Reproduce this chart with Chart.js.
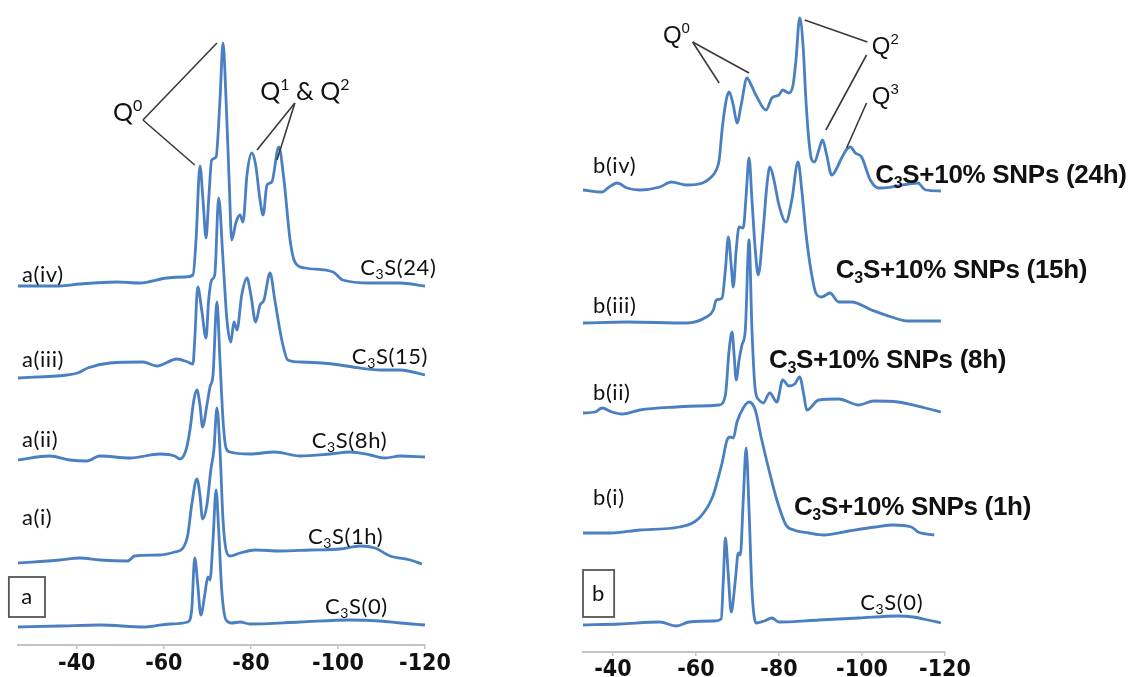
<!DOCTYPE html>
<html>
<head>
<meta charset="utf-8">
<script src="https://cdn.jsdelivr.net/npm/chart.js@4.4.1/dist/chart.umd.min.js"></script>
<style>
  html, body { margin: 0; padding: 0; background: #fff; }
  #wrap { position: relative; width: 1137px; height: 677px; overflow: hidden; }
  #chartA { position: absolute; left: 0; top: 0; }
  #chartB { position: absolute; left: 560px; top: 0; }
</style>
</head>
<body>
<div id="wrap">
  <canvas id="chartA" width="460" height="677"></canvas>
  <canvas id="chartB" width="577" height="677"></canvas>
</div>
<script>
// chemical shift ticks (ppm)
const tickPpm = [-40, -60, -80, -100, -120];

// panel a : C3S hydration, stacked spectra (intensity already offset)
const shiftA0 = [-26.4, -36.1, -45.3, -55.6, -61.4, -65.5, -66.4, -67.1, -67.8, -68.5, -69.4, -70.1, -70.6, -71.3, -72.0, -72.6, -73.3, -74.3, -75.6, -77.5, -79.8, -91.3, -102.8, -109.7, -114.3, -120];
const intA0 = [18, 19, 20, 18, 21, 23, 35, 87, 60, 30, 50, 68, 65, 105, 155, 115, 55, 25, 22, 23, 21, 23, 25, 24, 22, 20];

const shiftA1 = [-26.4, -36.1, -40.7, -45.3, -51.7, -53.3, -59.1, -62.5, -64.4, -65.5, -66.4, -67.6, -68.3, -68.9, -69.9, -70.8, -71.5, -72.2, -72.9, -73.6, -74.3, -75.2, -77.5, -80.9, -86.7, -93.6, -100.5, -105.1, -108.5, -112, -116.6, -119.3];
const intA1 = [82, 85, 87, 85, 84, 89, 90, 93, 97, 110, 140, 166, 150, 126, 140, 175, 195, 237, 195, 125, 95, 89, 92, 95, 94, 95, 96, 99, 97, 89, 85, 81];

const shiftA2 = [-26.4, -33.8, -38.4, -42.3, -45.3, -52.2, -59.1, -62.5, -63.7, -65.1, -66.0, -66.9, -67.6, -68.3, -68.9, -69.9, -70.6, -71.3, -72.2, -72.9, -73.6, -74.3, -75.2, -79.8, -85.5, -91.3, -98.2, -102.8, -107.4, -110.8, -114.3, -120];
const intA2 = [185, 189, 185, 184, 189, 187, 191, 189, 186, 195, 215, 245, 255, 240, 218, 240, 258, 270, 343, 285, 225, 197, 193, 191, 193, 189, 191, 193, 190, 187, 189, 188];

const shiftA3 = [-26.4, -37.7, -40.2, -42.5, -47.6, -55.2, -58.4, -63.0, -65.5, -66.7, -67.1, -67.8, -68.7, -69.7, -70.3, -71.0, -71.7, -72.6, -73.6, -74.5, -75.4, -76.1, -76.8, -77.9, -79.1, -80.0, -81.1, -82.1, -83.0, -84.4, -85.5, -87.1, -88.5, -91.3, -96.3, -100.5, -103.4, -109.7, -114.3, -120];
const intA3 = [267, 270, 272, 277, 282, 283, 279, 286, 283, 281, 305, 358, 335, 307, 345, 365, 370, 447, 385, 325, 303, 323, 315, 350, 367, 350, 323, 340, 345, 372, 345, 305, 285, 283, 282, 280, 278, 275, 275, 270];

const shiftA4 = [-26.4, -36.1, -40.7, -49.2, -54.5, -60.7, -64.8, -66.7, -67.4, -68.3, -69.0, -69.7, -70.3, -71.0, -72.0, -72.9, -73.6, -74.3, -75.0, -75.6, -76.6, -77.5, -78.2, -79.1, -80.2, -81.1, -82.1, -82.8, -83.7, -84.8, -86.4, -87.6, -89.0, -90.1, -92.4, -98.9, -101.1, -107.4, -114.3, -120];
const intA4 = [359, 359, 361, 363, 362, 367, 368, 370, 405, 479, 445, 407, 445, 485, 488, 545, 602, 545, 465, 405, 423, 430, 423, 470, 492, 480, 445, 430, 460, 463, 498, 465, 405, 383, 377, 373, 365, 362, 362, 359];

// panel b : C3S + 10% SNPs
const shiftB0 = [-32.8, -41.7, -51.3, -55.3, -58.4, -64.4, -66.1, -66.6, -67.1, -67.8, -68.5, -69.5, -70.2, -70.7, -71.4, -72.1, -72.8, -73.5, -74.5, -76.4, -78.3, -80.0, -89.6, -99.2, -108.7, -112.3, -115.9, -119];
const intB0 = [27, 28, 30, 26, 30, 31, 33, 72, 114, 77, 40, 72, 99, 97, 152, 204, 142, 62, 29, 31, 34, 30, 32, 34, 36, 35, 32, 29];

const shiftB1 = [-32.8, -39.3, -46.5, -56.0, -60.8, -64.0, -65.1, -66.3, -67.5, -68.3, -69.0, -69.9, -71.4, -72.8, -74.3, -75.7, -77.6, -79.5, -81.7, -83.6, -87.2, -90.8, -96.8, -103.2, -107.5, -111.9, -113.5, -117.4];
const intB1 = [119, 119, 122, 125, 134, 155, 170, 189, 212, 215, 214, 230, 244, 250, 242, 215, 182, 152, 127, 122, 119, 117, 121, 125, 127, 125, 120, 117];

const shiftB2 = [-32.8, -35.7, -37.4, -39.8, -42.2, -46.5, -55.3, -60.8, -65.6, -67.1, -68.0, -68.7, -69.2, -69.7, -70.4, -71.1, -71.9, -72.8, -73.5, -74.3, -75.2, -76.2, -77.8, -79.5, -80.9, -82.4, -83.8, -85.0, -86.0, -86.7, -89.6, -94.4, -99.2, -102.8, -108.7, -115.2, -119];
const intB2 = [239, 240, 244, 240, 238, 242, 245, 246, 247, 257, 302, 320, 297, 272, 292, 307, 322, 412, 322, 262, 252, 249, 259, 250, 272, 266, 268, 275, 257, 242, 252, 253, 247, 251, 250, 244, 240];

const shiftB3 = [-32.8, -43.4, -57.7, -62.5, -64.2, -64.9, -66.3, -67.1, -67.8, -68.5, -69.0, -69.7, -70.4, -71.4, -72.1, -72.8, -73.5, -74.3, -75.0, -76.2, -77.1, -77.8, -78.8, -80.0, -81.7, -83.1, -84.6, -85.5, -86.5, -87.7, -88.9, -90.3, -92.3, -94.4, -97.5, -102.3, -107.1, -111.1, -119];
const intB3 = [329, 330, 329, 335, 342, 352, 354, 382, 415, 387, 365, 402, 425, 424, 457, 494, 452, 402, 377, 422, 467, 485, 472, 447, 430, 452, 490, 462, 419, 382, 359, 355, 359, 350, 350, 342, 335, 331, 331];

const shiftB4 = [-32.8, -37.4, -38.8, -41.0, -43.4, -46.5, -51.3, -54.1, -57.7, -61.6, -63.7, -64.9, -65.6, -66.3, -67.3, -68.0, -69.0, -69.9, -70.9, -72.3, -73.3, -74.7, -76.9, -78.3, -80.0, -80.9, -82.4, -83.4, -84.1, -85.0, -85.8, -86.5, -87.2, -87.9, -88.6, -89.6, -90.5, -91.5, -92.7, -95.1, -96.2, -97.2, -98.4, -99.9, -102.0, -104.0, -107.1, -113.5, -114.7, -115.4, -119];
const intB4 = [462, 460, 464, 469, 464, 462, 465, 470, 467, 469, 475, 482, 492, 522, 552, 560, 547, 529, 547, 574, 567, 555, 542, 554, 557, 562, 559, 567, 592, 634, 607, 552, 512, 492, 490, 502, 512, 497, 477, 494, 502, 505, 499, 495, 472, 464, 465, 469, 464, 462, 461];

const lineBlue = '#4a7fc1';
const calibri = "Lato, 'Open Sans', sans-serif";
const arial = "'Liberation Sans', Arial, sans-serif";
const tickFont = "'Liberation Sans Narrow', 'DejaVu Sans Condensed', sans-serif";

function toPoints(xs, ys) {
    return xs.map((x, i) => ({ x: x, y: ys[i] }));
}

function trace(xs, ys) {
    return {
        data: toPoints(xs, ys),
        borderColor: lineBlue,
        borderWidth: 2.8,
        pointRadius: 0,
        fill: false,
        cubicInterpolationMode: 'monotone'
    };
}

// text with sub/superscripts, drawn in canvas
function drawRich(ctx, parts, x, y, f, align) {
    const big = f.weight + ' ' + f.size + 'px ' + f.family;
    const small = f.weight + ' ' + Math.round(f.size * 0.62) + 'px ' + f.family;
    ctx.letterSpacing = (f.spacing || 0) + 'px';
    let w = 0;
    parts.forEach(p => {
        ctx.font = p[1] ? small : big;
        w += ctx.measureText(p[0]).width;
    });
    let cx = align === 'center' ? x - w / 2 : (align === 'right' ? x - w : x);
    ctx.textAlign = 'left';
    ctx.textBaseline = 'middle';
    ctx.fillStyle = '#111';
    parts.forEach(p => {
        ctx.font = p[1] ? small : big;
        let dy = 0;
        if (p[1] === 'sub') dy = f.size * 0.3;
        if (p[1] === 'sup') dy = -f.size * 0.3;
        ctx.fillText(p[0], cx, y + dy);
        cx += ctx.measureText(p[0]).width;
    });
    ctx.letterSpacing = '0px';
}

function notesPlugin(notes) {
    return {
        id: 'notes',
        afterDraw(chart) {
            const ctx = chart.ctx;
            const sx = chart.scales.x, sy = chart.scales.y;
            const px = v => sx.getPixelForValue(v);
            const py = v => sy.getPixelForValue(v);
            ctx.save();
            ctx.strokeStyle = '#3a3a3a';
            ctx.lineWidth = 1.6;
            notes.lines.forEach(l => {
                ctx.beginPath();
                ctx.moveTo(px(l[0]), py(l[1]));
                ctx.lineTo(px(l[2]), py(l[3]));
                ctx.stroke();
            });
            notes.boxes.forEach(b => {
                const x1 = px(b.x1), x2 = px(b.x2), y1 = py(b.y1), y2 = py(b.y2);
                ctx.strokeStyle = '#555';
                ctx.lineWidth = 1.8;
                ctx.strokeRect(x1, y1, x2 - x1, y2 - y1);
                drawRich(ctx, [[b.text]], (x1 + x2) / 2, (y1 + y2) / 2, b.font, 'center');
            });
            notes.texts.forEach(t => drawRich(ctx, t.parts, px(t.x), py(t.y), t.font, t.align));
            ctx.restore();
        }
    };
}

const labelFont = { family: calibri, size: 22, weight: 'normal', spacing: 0.6 };
const qFontA = { family: calibri, size: 25, weight: 'normal' };
const qFontB = { family: arial, size: 24, weight: 'normal' };
const snpFont = { family: arial, size: 26, weight: 'bold', spacing: -0.3 };

const notesA = {
    lines: [
        [-55.2, 525, -72.2, 602],
        [-55.2, 525, -67.1, 480],
        [-90.1, 542, -81.4, 495],
        [-90.1, 542, -86.0, 485]
    ],
    boxes: [{ x1: -24.4, x2: -32.7, y1: 68, y2: 28, text: 'a', font: labelFont }],
    texts: [
        { x: -51.7, y: 532, parts: [['Q'], ['0', 'sup']], font: qFontA, align: 'center' },
        { x: -92.4, y: 553, parts: [['Q'], ['1', 'sup'], [' & Q'], ['2', 'sup']], font: qFontA, align: 'center' },
        { x: -27.4, y: 370, parts: [['a(iv)']], font: labelFont, align: 'left' },
        { x: -27.4, y: 285, parts: [['a(iii)']], font: labelFont, align: 'left' },
        { x: -27.4, y: 205, parts: [['a(ii)']], font: labelFont, align: 'left' },
        { x: -27.4, y: 127, parts: [['a(i)']], font: labelFont, align: 'left' },
        { x: -105.1, y: 377, parts: [['C'], ['3', 'sub'], ['S(24)']], font: labelFont, align: 'left' },
        { x: -103.2, y: 288, parts: [['C'], ['3', 'sub'], ['S(15)']], font: labelFont, align: 'left' },
        { x: -94.0, y: 204, parts: [['C'], ['3', 'sub'], ['S(8h)']], font: labelFont, align: 'left' },
        { x: -93.1, y: 108, parts: [['C'], ['3', 'sub'], ['S(1h)']], font: labelFont, align: 'left' },
        { x: -97.0, y: 38, parts: [['C'], ['3', 'sub'], ['S(0)']], font: labelFont, align: 'left' }
    ]
};

const notesB = {
    lines: [
        [-59.2, 610, -65.6, 569],
        [-59.2, 610, -72.8, 579],
        [-101.3, 610, -86.2, 632],
        [-101.1, 597, -91.3, 522],
        [-101.1, 549, -96.3, 504]
    ],
    boxes: [{ x1: -32.8, x2: -40.3, y1: 82, y2: 35, text: 'b', font: labelFont }],
    texts: [
        { x: -55.3, y: 616, parts: [['Q'], ['0', 'sup']], font: qFontB, align: 'center' },
        { x: -105.6, y: 605, parts: [['Q'], ['2', 'sup']], font: qFontB, align: 'center' },
        { x: -105.6, y: 555, parts: [['Q'], ['3', 'sup']], font: qFontB, align: 'center' },
        { x: -35.2, y: 486, parts: [['b(iv)']], font: labelFont, align: 'left' },
        { x: -35.2, y: 346, parts: [['b(iii)']], font: labelFont, align: 'left' },
        { x: -35.2, y: 259, parts: [['b(ii)']], font: labelFont, align: 'left' },
        { x: -35.2, y: 154, parts: [['b(i)']], font: labelFont, align: 'left' },
        { x: -103.2, y: 476, parts: [['C'], ['3', 'sub'], ['S+10% SNPs (24h)']], font: snpFont, align: 'left' },
        { x: -93.7, y: 381, parts: [['C'], ['3', 'sub'], ['S+10% SNPs (15h)']], font: snpFont, align: 'left' },
        { x: -77.6, y: 291, parts: [['C'], ['3', 'sub'], ['S+10% SNPs (8h)']], font: snpFont, align: 'left' },
        { x: -83.6, y: 144, parts: [['C'], ['3', 'sub'], ['S+10% SNPs (1h)']], font: snpFont, align: 'left' },
        { x: -99.6, y: 49, parts: [['C'], ['3', 'sub'], ['S(0)']], font: labelFont, align: 'left' }
    ]
};

function makeChart(id, datasets, xMax, yMax, axisH, pad, tickPad, notes) {
    return new Chart(document.getElementById(id), {
        type: 'line',
        data: { datasets: datasets },
        options: {
            responsive: false,
            animation: false,
            events: [],
            layout: { padding: pad },
            plugins: { legend: { display: false }, tooltip: { enabled: false } },
            scales: {
                x: {
                    type: 'linear',
                    reverse: true,
                    min: -120,
                    max: xMax,
                    afterBuildTicks: s => { s.ticks = tickPpm.map(v => ({ value: v })); },
                    afterFit: s => { s.height = axisH; },
                    border: { display: true, color: '#c4c4c4', width: 2 },
                    grid: { display: true, drawOnChartArea: false, drawTicks: true, tickLength: 4, color: '#c4c4c4', lineWidth: 1.5 },
                    ticks: {
                        color: '#111',
                        padding: tickPad,
                        maxRotation: 0,
                        autoSkip: false,
                        font: { family: tickFont, size: 23, weight: 'bold' },
                        callback: v => String(v)
                    }
                },
                y: { display: false, min: 0, max: yMax }
            }
        },
        plugins: [notesPlugin(notes)]
    });
}

makeChart('chartA', [
    trace(shiftA0, intA0), trace(shiftA1, intA1), trace(shiftA2, intA2),
    trace(shiftA3, intA3), trace(shiftA4, intA4)
], -26.5, 635, 32, { left: 18, right: 35, top: 10, bottom: 0 }, 1, notesA);

makeChart('chartB', [
    trace(shiftB0, intB0), trace(shiftB1, intB1), trace(shiftB2, intB2),
    trace(shiftB3, intB3), trace(shiftB4, intB4)
], -32.8, 642, 25, { left: 23, right: 192, top: 10, bottom: 0 }, 0, notesB);
</script>
</body>
</html>
